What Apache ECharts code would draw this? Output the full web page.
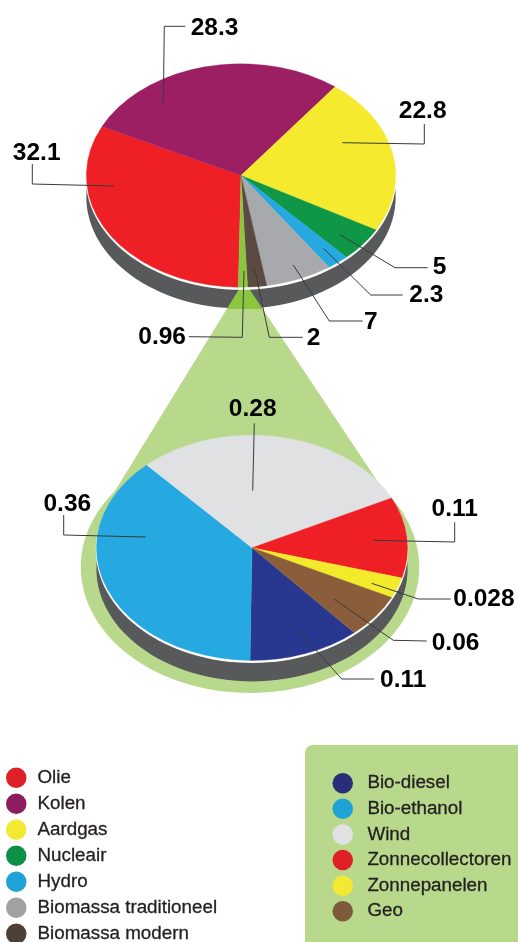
<!DOCTYPE html>
<html><head><meta charset="utf-8">
<style>html,body{margin:0;padding:0;background:#fff;overflow:hidden}#c{width:518px;height:942px}</style>
<script src="https://cdn.jsdelivr.net/npm/echarts@6/dist/echarts.min.js"></script>
</head><body><div id="c"></div>
<script>
// ---- data ----
const mainCategories = ['Olie','Kolen','Aardgas','Nucleair','Hydro','Biomassa traditioneel','Biomassa modern','Overig'];
const mainValues = [32.1,28.3,22.8,5,2.3,7,2,0.96];
const bioCategories = ['Bio-diesel','Bio-ethanol','Wind','Zonnecollectoren','Zonnepanelen','Geo'];
const bioValues = [0.11,0.36,0.28,0.11,0.028,0.06];
// ---- styles ----
const mainColors = ['#EF1F26','#9C1F63','#F5EA2D','#0F9647','#25A9E0','#A7A9AC','#5A4A42','#8CC63F'];
const bioColors = ['#283891','#25A9E0','#E0E1E3','#EF1F26','#F4EA2C','#8A5D3B'];
const mainLegendColors = ['#DF2027','#8C1D5E','#F3E933','#0C9048','#1FA2D6','#A0A1A2','#4D4037'];
const bioLegendColors = ['#282F78','#1FA2D6','#E1E2E4','#DF2027','#F3E933','#7D5A3A'];
// ---- layout ----
const mainPie = {cx:241, cy:175.5, rx:154.7, ry:111.7, startDeg:1};
const bioPie = {cx:252, cy:547.8, rx:155.6, ry:112.6, startDeg:0.7-0.11/0.948*360};
const mainLeaders = [
 [[114,186],[32.3,184],[32.3,164]],
 [[163.3,104],[164.3,26.3],[185.3,26.3]],
 [[342.3,142.7],[424.3,144],[424.3,124]],
 [[339.3,234.3],[395,267.7],[427.7,267.7]],
 [[323.3,248.3],[370.7,295],[402.7,295]],
 [[293.3,265],[329.3,321],[362.7,321]],
 [[255,270],[269.3,337.3],[302.7,337.3]],
 [[244,271],[242.3,337.3],[188.7,336.7]]];
const mainLabelPos = [[36.7,153.7,'center'],[190.7,28,'left'],[422.7,111.5,'center'],[432.7,267.5,'left'],[409.3,295.5,'left'],[364,322,'left'],[306.7,338,'left'],[186,337.5,'right']];
const bioLeaders = [
 [[296,627.7],[341.7,679],[374,679]],
 [[145.7,537],[63.7,535],[63.7,515]],
 [[252.7,490.7],[254.3,423.3]],
 [[373.3,540.3],[454.7,542],[454.7,522.3]],
 [[371.7,583.3],[418.3,599],[450.7,599]],
 [[334,599],[393.3,640.3],[426.7,641]]];
const bioLabelPos = [[380,680.5,'left'],[67.3,504,'center'],[252.7,409,'center'],[454.7,509.5,'center'],[453.3,599.5,'left'],[431.7,643.5,'left']];

const FONT = '"Liberation Sans", Arial, sans-serif';
function ell(p, dy, col, extra){ return {type:'ellipse', shape:{cx:p.cx, cy:p.cy+dy, rx:p.rx+(extra||0), ry:p.ry+(extra||0)}, style:{fill:col}}; }
const triApex = [244,281];

const backdrop = {
  type:'custom', coordinateSystem:'none', silent:true, data:[[0]], z:1,
  renderItem(){
    return {type:'group', children:[
      {type:'ellipse', shape:{cx:250,cy:567,rx:169.2,ry:126}, style:{fill:'#B8D98C'}},
      {type:'polygon', shape:{points:[triApex,[91,530],[410,530]]}, style:{fill:'#B8D98C'}},
      ell(mainPie,21.2,'#58595B'),
      {type:'polygon', shape:{points:[triApex,[226.8,309],[262.7,309]]}, style:{fill:'#8CC63F'}},
      ell(mainPie,2,'#fff',0.6),
      ell(bioPie,21,'#58595B'),
      ell(bioPie,2,'#fff',0.6)
    ]};
  }
};
function sliceSeries(cats, vals, colors, pie){
  const total = vals.reduce((a,b)=>a+b,0);
  let cum = 0;
  return vals.map((v,i)=>{
    const a0 = Math.PI/2 + (pie.startDeg + cum/total*360)*Math.PI/180;
    cum += v;
    const a1 = Math.PI/2 + (pie.startDeg + cum/total*360)*Math.PI/180;
    return {
      type:'custom', name:cats[i], coordinateSystem:'none', silent:true, z:2,
      itemStyle:{color:colors[i]}, data:[[v]],
      renderItem(){
        return {type:'sector', x:pie.cx, y:pie.cy, scaleY:pie.ry/pie.rx,
          shape:{cx:0,cy:0,r0:0,r:pie.rx,startAngle:a0,endAngle:a1,clockwise:true},
          style:{fill:colors[i],stroke:colors[i],lineWidth:0.4}};
      }
    };
  });
}
function leaderSeries(vals, leaders, pos){
  return {
    type:'custom', coordinateSystem:'none', silent:true, z:3, data:vals.map(v=>[v]),
    renderItem(params, api){
      const i = params.dataIndex, p = pos[i];
      return {type:'group', children:[
        {type:'polyline', shape:{points:leaders[i]}, style:{fill:'none',stroke:'#3a3a3c',lineWidth:1}},
        {type:'text', x:p[0], y:p[1], style:{text:String(api.value(0)), fill:'#000', font:'bold 24.5px '+FONT,
           align:p[2], verticalAlign:'middle', textAlign:p[2], textVerticalAlign:'middle'}}
      ]};
    }
  };
}
const legendText = pad => ({color:'#231F20', fontFamily:FONT, fontSize:18.8, textBorderColor:'#231F20', textBorderWidth:0.3, padding:[0,0,0,pad]});
const chart = echarts.init(document.getElementById('c'), null, {renderer:'canvas', width:518, height:942});
chart.setOption({
  animation:false, backgroundColor:'#fff',
  graphic:[{type:'rect', z:0, zlevel:0, left:305, top:745, shape:{width:240,height:230,r:8}, style:{fill:'#B8D98C'}}],
  legend:[
    {orient:'vertical', left:6, top:767.5, height:200, padding:0, itemWidth:20.5, itemHeight:20.5, itemGap:5.5, icon:'circle', selectedMode:false, textStyle:legendText(6),
     data:mainCategories.slice(0,7).map((n,i)=>({name:n,itemStyle:{color:mainLegendColors[i]}}))},
    {orient:'vertical', left:332.5, top:773, height:190, padding:0, itemWidth:20.5, itemHeight:20.5, itemGap:5.1, icon:'circle', selectedMode:false, textStyle:legendText(9.4),
     data:bioCategories.map((n,i)=>({name:n,itemStyle:{color:bioLegendColors[i]}}))}
  ],
  series:[backdrop,
    ...sliceSeries(mainCategories,mainValues,mainColors,mainPie),
    ...sliceSeries(bioCategories,bioValues,bioColors,bioPie),
    leaderSeries(mainValues,mainLeaders,mainLabelPos),
    leaderSeries(bioValues,bioLeaders,bioLabelPos)]
});
</script></body></html>
